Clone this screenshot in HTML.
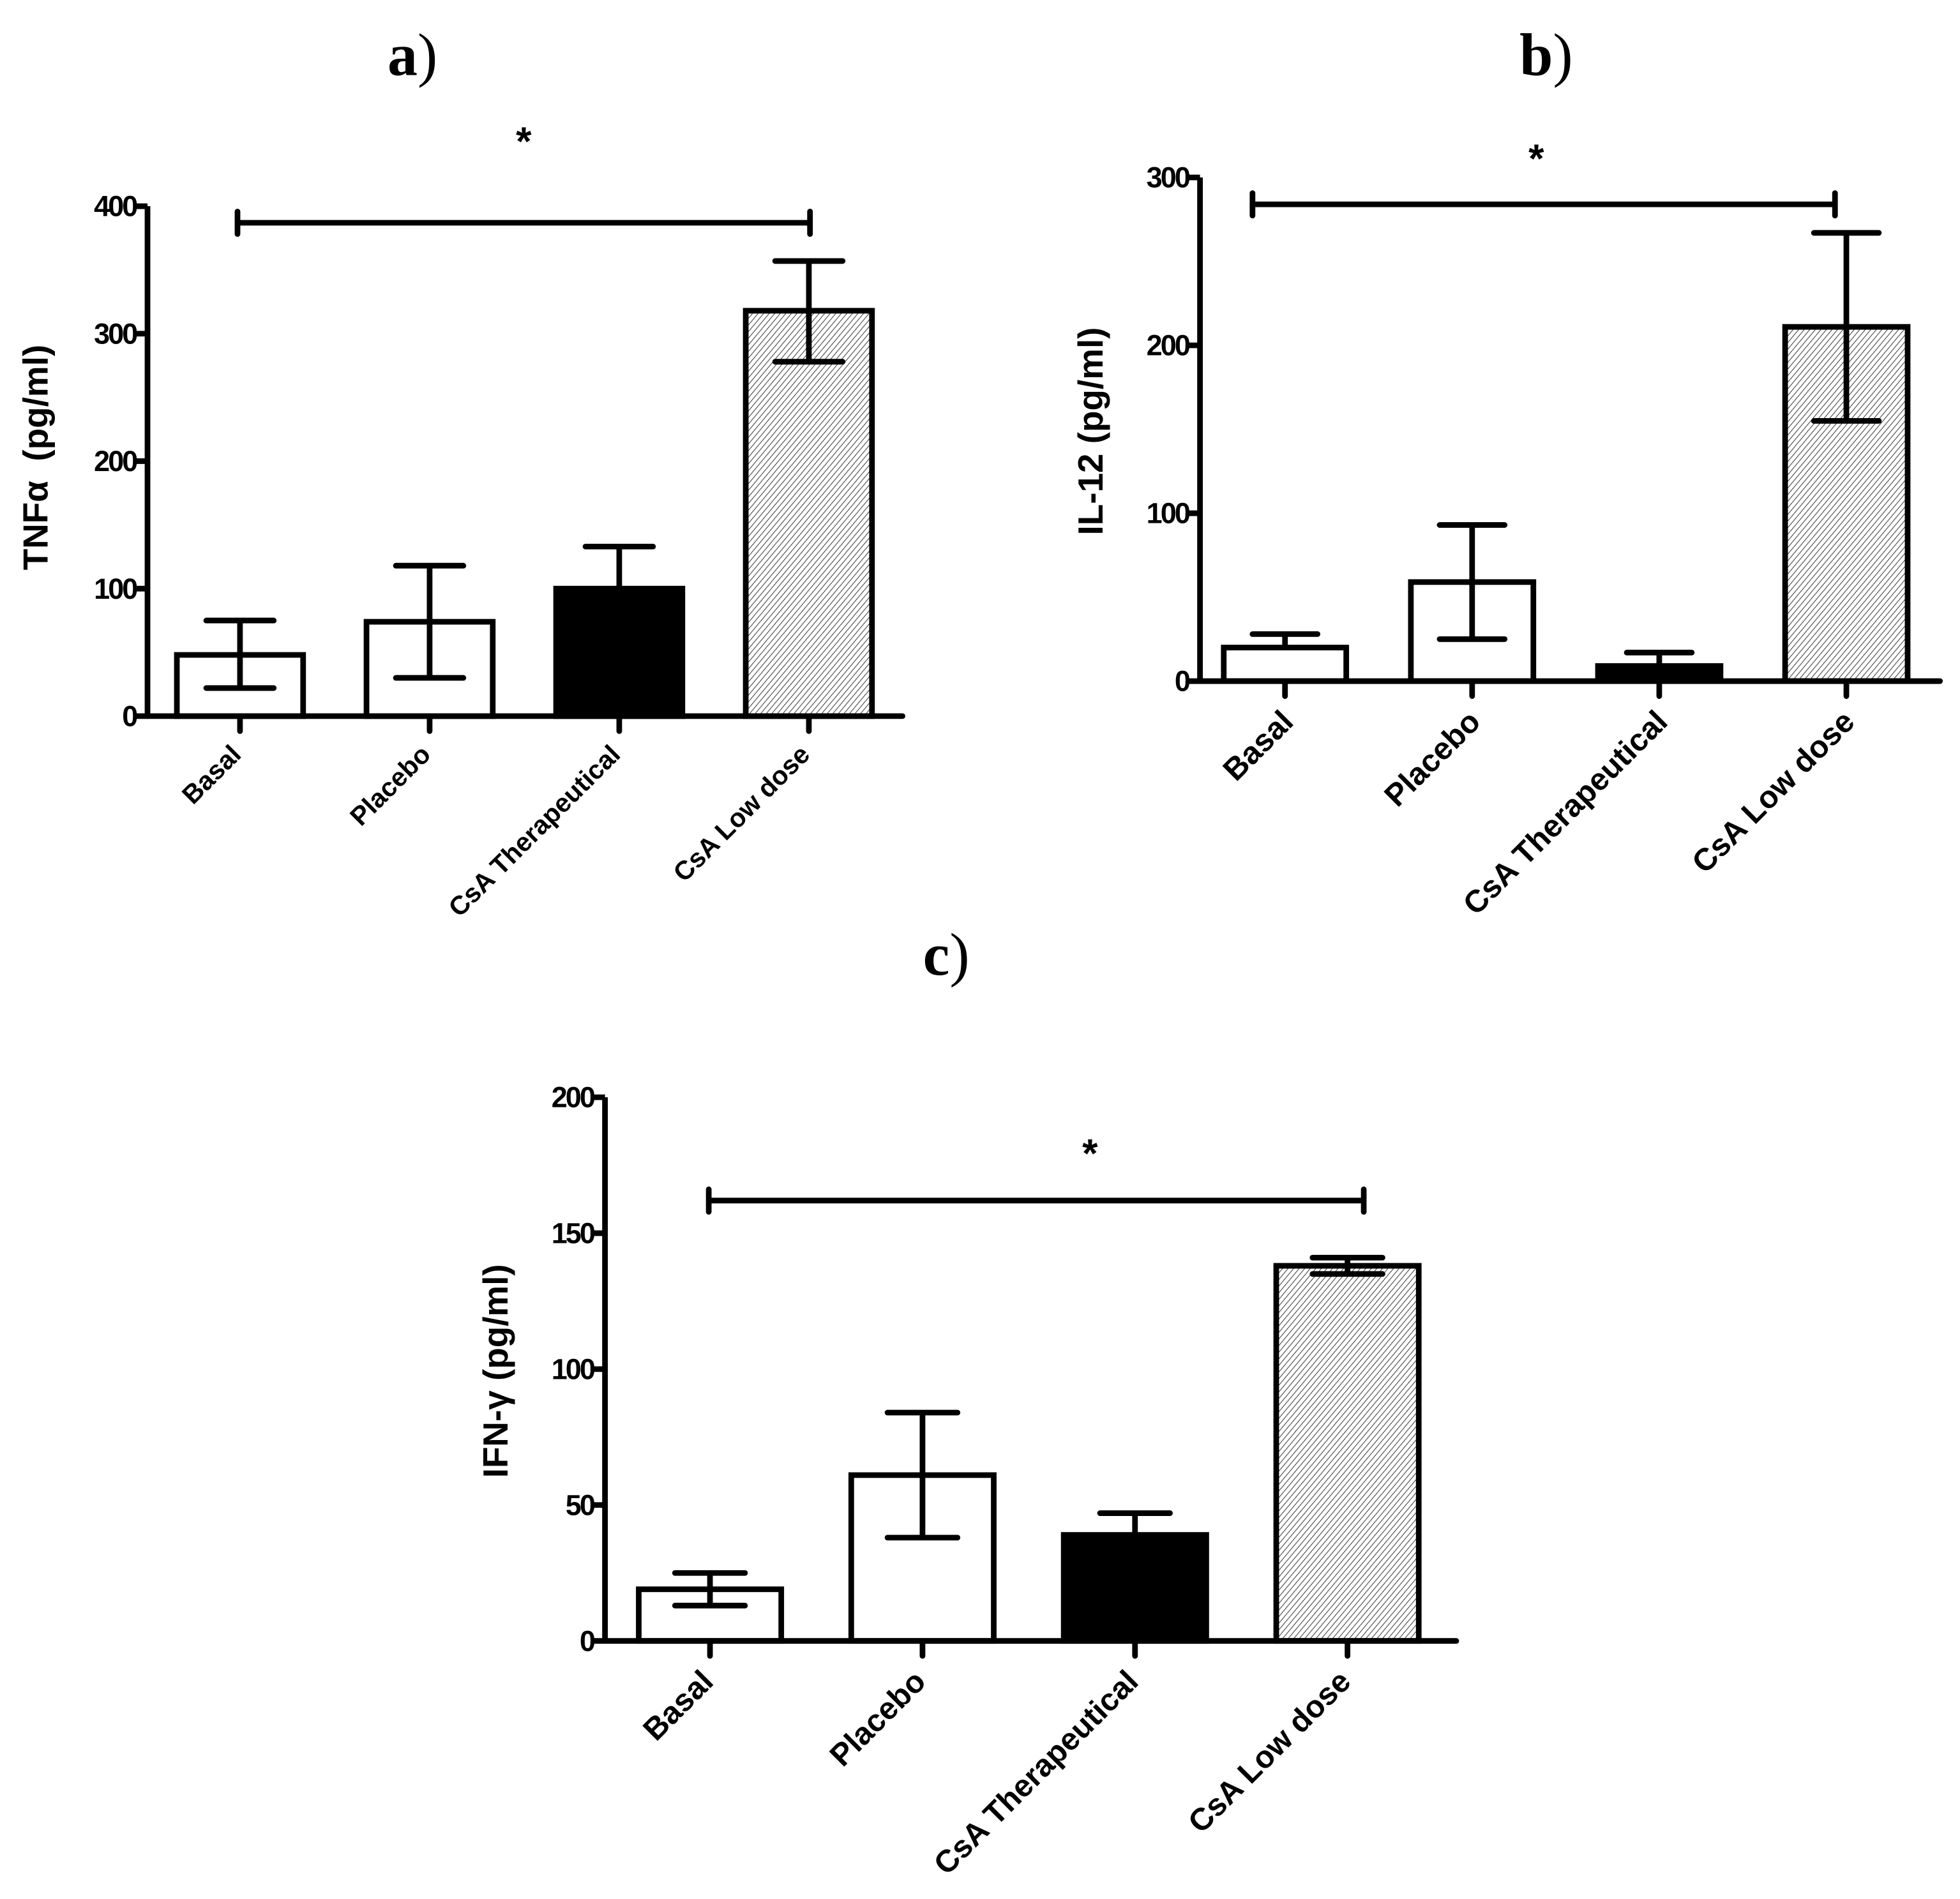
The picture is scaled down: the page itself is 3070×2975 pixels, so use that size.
<!DOCTYPE html>
<html><head><meta charset="utf-8"><style>
html,body{margin:0;padding:0;background:#fff;}
svg{display:block;}
text{font-family:"Liberation Sans",Arial,sans-serif;font-weight:bold;fill:#000;}
.title{font-family:"Liberation Serif",serif;font-size:48px;}
</style></head><body>
<svg id="fig" width="3070" height="2975" viewBox="0 0 1568 1519.5" preserveAspectRatio="none" xmlns="http://www.w3.org/2000/svg">
<defs>
<pattern id="hatch" patternUnits="userSpaceOnUse" width="3.4" height="3.4" patternTransform="rotate(40)">
<rect width="3.4" height="3.4" fill="#fff"/>
<line x1="0" y1="0" x2="0" y2="3.4" stroke="#000" stroke-width="0.8"/>
</pattern>
</defs>
<text class="title" x="330" y="60" text-anchor="middle">a<tspan font-weight="normal">)</tspan></text>
<text class="title" x="1237" y="60" text-anchor="middle">b<tspan font-weight="normal">)</tspan></text>
<text class="title" x="757" y="780" text-anchor="middle">c<tspan font-weight="normal">)</tspan></text>
</svg>
<script>
const categories = ["Basal", "Placebo", "CsA Therapeutical", "CsA Low dose"];
const fills = ["white", "white", "black", "hatch"];
const tnfValues = [48, 74, 100, 318];
const tnfLow = [22, 30, 100, 278];
const tnfHigh = [75, 118, 133, 357];
const tnfTicks = [0, 100, 200, 300, 400];
const il12Values = [20, 59, 9, 211];
const il12Low = [20, 25, 9, 155];
const il12High = [28, 93, 17, 267];
const il12Ticks = [0, 100, 200, 300];
const ifnValues = [19, 61, 39, 138];
const ifnLow = [13, 38, 39, 135];
const ifnHigh = [25, 84, 47, 141];
const ifnTicks = [0, 50, 100, 150, 200];
const brackets = [387, 284, 162];

const svg = document.getElementById('fig');
const NS = 'http://www.w3.org/2000/svg';
function mk(tag, attrs){const e=document.createElementNS(NS,tag);for(const k in attrs)e.setAttribute(k,attrs[k]);svg.appendChild(e);return e;}

function panel(cfg, values, low, high, ticks, bracketVal){
  const y = v => cfg.y0 - (v - 0) / (cfg.ymax) * (cfg.y0 - cfg.yTop);
  const x = i => cfg.x0 + i * cfg.step;
  const lw = 4.5;
  values.forEach((v,i)=>{
    const b = mk('rect',{x:x(i)-cfg.bw/2,y:y(v),width:cfg.bw,height:cfg.y0-y(v),fill:fills[i]==='hatch'?'url(#hatch)':fills[i],stroke:'#000','stroke-width':lw});
    
    
    const s = mk('line',{x1:x(i),x2:x(i),y1:y(low[i]),y2:y(high[i]),stroke:'#000','stroke-width':lw});
    
    
    const c1 = mk('line',{x1:x(i)-cfg.cap,x2:x(i)+cfg.cap,y1:y(high[i]),y2:y(high[i]),stroke:'#000','stroke-width':lw,'stroke-linecap':'round'});
    
    
    if(low[i] < values[i]){
      const c2 = mk('line',{x1:x(i)-cfg.cap,x2:x(i)+cfg.cap,y1:y(low[i]),y2:y(low[i]),stroke:'#000','stroke-width':lw,'stroke-linecap':'round'});
      
      
    }
    const t = mk('line',{x1:x(i),x2:x(i),y1:cfg.y0,y2:cfg.y0+12,stroke:'#000','stroke-width':lw,'stroke-linecap':'round'});
    
    
    const lx = x(i)+cfg.lblDx, ly = cfg.y0+cfg.lblDy;
    const lt = mk('text',{x:lx,y:ly,'text-anchor':'end','font-size':cfg.lfs,transform:'rotate(-45 '+lx+' '+ly+')'});
    lt.textContent = categories[i];
    
    
  });
  const ya = mk('line',{x1:cfg.ax,x2:cfg.ax,y1:cfg.yTop,y2:cfg.y0,stroke:'#000','stroke-width':lw});
  
  
  const xa = mk('line',{x1:cfg.ax,x2:cfg.xEnd,y1:cfg.y0,y2:cfg.y0,stroke:'#000','stroke-width':lw,'stroke-linecap':'round'});
  
  
  ticks.forEach((tv,j)=>{
    const tk = mk('line',{x1:cfg.ax-10,x2:cfg.ax,y1:y(tv),y2:y(tv),stroke:'#000','stroke-width':lw});
    
    
    const tl = mk('text',{x:cfg.ax-9,y:y(tv)+8,'text-anchor':'end','font-size':cfg.tfs,'letter-spacing':'-1.5'});
    tl.textContent = tv;
    
    
  });
  const yt = mk('text',{x:cfg.ytx,y:cfg.yty,'text-anchor':'middle','font-size':cfg.yfs,transform:'rotate(-90 '+cfg.ytx+' '+cfg.yty+')'});
  yt.innerHTML = cfg.ytitle;
  
  
  const by = y(bracketVal), bx1 = cfg.bx1, bx2 = cfg.bx2;
  const bl = mk('line',{x1:bx1,x2:bx2,y1:by,y2:by,stroke:'#000','stroke-width':lw});
  
  
  [bx1,bx2].forEach((bx,k)=>{
    const e = mk('line',{x1:bx,x2:bx,y1:by-9,y2:by+9,stroke:'#000','stroke-width':lw,'stroke-linecap':'round'});
    
    
  });
  const st = mk('text',{x:cfg.starX,y:cfg.starY,'text-anchor':'middle','font-size':32});
  st.textContent = '*';
  
  
}

panel({id:'panel-a',ax:118,x0:192,step:151.7,bw:101,cap:27,y0:573,yTop:165,ymax:400,xEnd:722,bx1:190,bx2:648,
  lblDx:2,lblDy:32,lfs:21,tfs:23,yfs:28,ytx:38,yty:366,ytitle:'TNF&#945;&#160; (pg/ml)',starX:419,starY:124},
  tnfValues,tnfLow,tnfHigh,tnfTicks,brackets[0]);
panel({id:'panel-b',ax:960,x0:1028,step:149.7,bw:98,cap:26,y0:545,yTop:142,ymax:300,xEnd:1552,bx1:1002,bx2:1468,
  lblDx:8,lblDy:34,lfs:25,tfs:23,yfs:28,ytx:882,yty:345,ytitle:'IL-12 (pg/ml)',starX:1229,starY:138},
  il12Values,il12Low,il12High,il12Ticks,brackets[1]);
panel({id:'panel-c',ax:484,x0:568,step:170,bw:114,cap:28,y0:1313,yTop:878,ymax:200,xEnd:1165,bx1:567,bx2:1091,
  lblDx:4,lblDy:34,lfs:25,tfs:23,yfs:28,ytx:406,yty:1097,ytitle:'IFN-&#947; (pg/ml)',starX:872,starY:934},
  ifnValues,ifnLow,ifnHigh,ifnTicks,brackets[2]);
</script>
</body></html>
